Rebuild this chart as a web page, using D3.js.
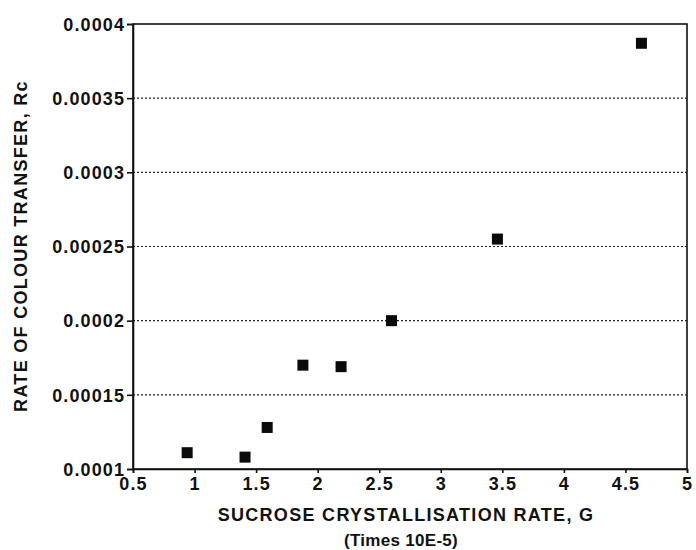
<!DOCTYPE html>
<html lang="en">
<head>
<meta charset="utf-8">
<title>Rate of colour transfer vs sucrose crystallisation rate</title>
<script src="https://d3js.org/d3.v7.min.js"></script>
<style>
  body { margin: 0; background: #fff; }
  text { font-family: "Liberation Sans", Arial, sans-serif; fill: #111; }
</style>
</head>
<body>
<script>
// values
var growthRate = [0.94, 1.41, 1.59, 1.88, 2.19, 2.60, 3.46, 4.63];
var colourRate = [0.000111, 0.000108, 0.000128, 0.000170, 0.000169, 0.000200, 0.000255, 0.000387];
var xTicks = [0.5, 1, 1.5, 2, 2.5, 3, 3.5, 4, 4.5, 5];
var yTicks = [0.0001, 0.00015, 0.0002, 0.00025, 0.0003, 0.00035, 0.0004];
var yTickLabels = ["0.0001", "0.00015", "0.0002", "0.00025", "0.0003", "0.00035", "0.0004"];

var width = 696, height = 550;
var margin = {top: 24, right: 9, bottom: 81, left: 133};

var svg = d3.select("body").append("svg")
    .attr("width", width)
    .attr("height", height);

var x = d3.scaleLinear().domain([0.5, 5]).range([margin.left, width - margin.right]);
var y = d3.scaleLinear().domain([0.0001, 0.0004]).range([height - margin.bottom, margin.top]);

// dotted grid lines
svg.append("g")
    .selectAll("line")
    .data(yTicks.slice(1, -1))
    .enter().append("line")
    .attr("x1", x(0.5)).attr("x2", x(5))
    .attr("y1", function(d) { return y(d); })
    .attr("y2", function(d) { return y(d); })
    .attr("stroke", "#222")
    .attr("stroke-width", 1.2)
    .attr("stroke-dasharray", "2,2");

// frame
svg.append("rect")
    .attr("x", x(0.5)).attr("y", y(0.0004))
    .attr("width", x(5) - x(0.5))
    .attr("height", y(0.0001) - y(0.0004))
    .attr("fill", "none")
    .attr("stroke", "#111")
    .attr("stroke-width", 1.6);

var xAxis = svg.append("g")
    .attr("transform", "translate(0," + y(0.0001) + ")")
    .call(d3.axisBottom(x).tickValues(xTicks).tickSize(4).tickFormat(d3.format("")));

var yAxis = svg.append("g")
    .attr("transform", "translate(" + x(0.5) + ",0)")
    .call(d3.axisLeft(y).tickValues(yTicks).tickSize(6)
        .tickFormat(function(d, i) { return yTickLabels[i]; }));

[xAxis, yAxis].forEach(function(g) {
  g.attr("font-size", null).attr("font-family", null);
  g.select(".domain").attr("stroke", "#111").attr("stroke-width", 1.6);
  g.selectAll(".tick line").attr("stroke", "#111").attr("stroke-width", 1.6);
  g.selectAll(".tick text")
    .style("font-size", "18px")
    .style("font-weight", "bold")
    .style("letter-spacing", "1.1px")
    .attr("fill", "#111");
});
xAxis.selectAll(".tick text").attr("dy", "0.8em");
yAxis.selectAll(".tick text").attr("x", -8).attr("dy", "0.35em");

// markers
var s = 11;
svg.append("g")
    .selectAll("rect")
    .data(growthRate)
    .enter().append("rect")
    .attr("x", function(d) { return x(d) - s / 2; })
    .attr("y", function(d, i) { return y(colourRate[i]) - s / 2; })
    .attr("width", s).attr("height", s)
    .attr("fill", "#0a0a0a");

// axis titles
svg.append("text")
    .attr("x", 406).attr("y", 521)
    .attr("text-anchor", "middle")
    .style("font-size", "18px").style("font-weight", "bold")
    .style("letter-spacing", "1.3px")
    .text("SUCROSE CRYSTALLISATION RATE, G");

svg.append("text")
    .attr("x", 401).attr("y", 546)
    .attr("text-anchor", "middle")
    .style("font-size", "17px").style("font-weight", "bold")
    .style("letter-spacing", "0.3px")
    .text("(Times 10E-5)");

svg.append("text")
    .attr("transform", "translate(27,246) rotate(-90)")
    .attr("text-anchor", "middle")
    .style("font-size", "18px").style("font-weight", "bold")
    .style("letter-spacing", "1.3px")
    .text("RATE OF COLOUR TRANSFER, Rc");
</script>
</body>
</html>
